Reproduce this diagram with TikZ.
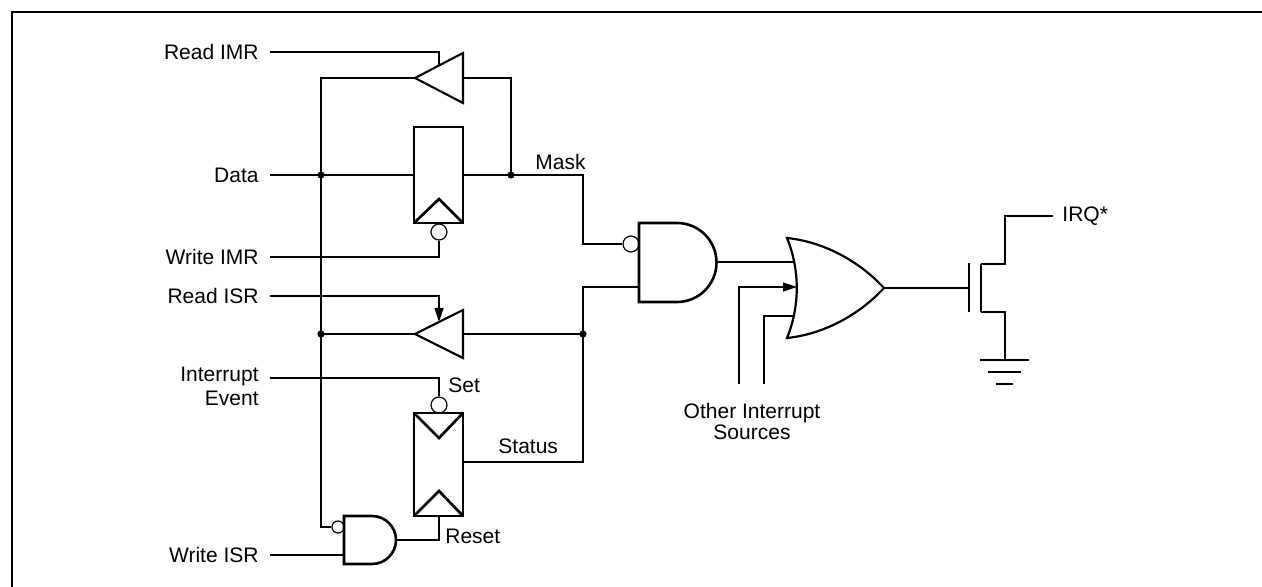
\documentclass[tikz,border=0pt]{standalone}
\usepackage{fontspec}
\setmainfont{Liberation Sans}
\usetikzlibrary{arrows.meta}
\begin{document}
\begin{tikzpicture}[x=0.5pt,y=-0.5pt,
  wire/.style={line width=0.75pt},
  ffbox/.style={line width=1.35pt, line join=miter},
  buf/.style={line width=1.05pt, line join=miter},
  andg/.style={line width=1.3pt},
  org/.style={line width=1.1pt},
  txt/.style={font=\fontsize{10.5pt}{12pt}\selectfont, inner sep=0pt},
  inlbl/.style={txt, anchor=east, inner xsep=5.5pt},
  jdot/.style={circle, fill, inner sep=0pt, minimum size=3.6pt},
  bub/.style={circle, draw, line width=0.6pt, inner sep=0pt, minimum size=8pt},
  sbub/.style={circle, draw, line width=0.6pt, inner sep=0pt, minimum size=6pt},
  arr/.style={-{Triangle[length=7pt,width=4.5pt]}},
]
\useasboundingbox (0,0) rectangle (1262,587);
% frame
\draw[line width=1pt] (12,588) -- (12,12) -- (1263,12);

% ---- input labels
\node[inlbl] (rimr) at (270,52) {Read IMR};
\node[inlbl] (data) at (270,175) {Data};
\node[inlbl] (wimr) at (270,257) {Write IMR};
\node[inlbl] (risr) at (270,296) {Read ISR};
\node[inlbl] (wisr) at (270,555) {Write ISR};
\node[txt, anchor=north east, align=right, inner xsep=5.5pt,
      font=\fontsize{10.5pt}{12pt}\selectfont] (iev) at (270,367) {Interrupt\\Event};
\coordinate (ievin) at (270,378);

% ---- key coordinates
\coordinate (bustop) at (321,78);
\coordinate (jd) at (321,175);
\coordinate (jb) at (321,334);
\coordinate (busbot) at (321,527);
\coordinate (jm) at (511,175);
\coordinate (js) at (583,334);
\coordinate (stin) at (583,287);

% ---- tri-state buffer 1 (IMR read)
\draw[buf] (463,53) -- (463,103) -- (415,78) -- cycle;
\coordinate (t1in) at (463,78);
\coordinate (t1out) at (415,78);
\coordinate (t1en) at (439,65.5);

% ---- flip-flop 1 (IMR)
\draw[ffbox] (414,127) rectangle (463,223);
\draw[ffbox] (414,223) -- (439,199) -- (463,223);
\coordinate (ff1d) at (414,175);
\coordinate (ff1q) at (463,175);
\node[bub] (b1) at (439,232) {};

% ---- tri-state buffer 2 (ISR read)
\draw[buf] (463,310) -- (463,358) -- (415,334) -- cycle;
\coordinate (t2in) at (463,334);
\coordinate (t2out) at (415,334);
\coordinate (t2en) at (439,322);

% ---- flip-flop 2 (ISR)
\draw[ffbox] (414,413) rectangle (463,516);
\draw[ffbox] (414,413) -- (439,438) -- (463,413);
\draw[ffbox] (414,516) -- (439,491) -- (463,516);
\node[bub] (b4) at (439,405) {};
\coordinate (ff2q) at (463,462);
\coordinate (ff2r) at (439,516);

% ---- bottom AND gate
\draw[andg] (344,516) -- (372,516) arc (-90:90:24) -- (344,564) -- cycle;
\node[sbub] (b3) at (338,527) {};
\coordinate (and2b) at (344,555);
\coordinate (and2o) at (396,540);

% ---- main AND gate
\draw[andg] (639,223) -- (677,223) arc (-90:90:39.5) -- (639,302) -- cycle;
\node[bub] (b2) at (631,244) {};
\coordinate (and1b) at (639,287);
\coordinate (and1o) at (716.5,262);

% ---- OR gate
\draw[org] (787,238) .. controls (800,270) and (800,306) .. (787,338)
  .. controls (825,334) and (860,314) .. (884,288)
  .. controls (860,262) and (825,242) .. (787,238) -- cycle;
\coordinate (or1) at (794,262);
\coordinate (or2) at (797,287);
\coordinate (or3) at (792.5,316);
\coordinate (oro) at (884,288);
\coordinate (oth1) at (739,384);
\coordinate (oth2) at (764,384);

% ---- MOSFET
\coordinate (mg) at (969,288);
\draw[line width=0.8pt] (969,263) -- (969,312);
\draw[line width=0.8pt] (981,264) -- (981,312);
\coordinate (md) at (981,264);
\coordinate (ms) at (981,312);
\coordinate (irq) at (1053,216);
\coordinate (gnd) at (1005,360);
\draw[wire] (980,360) -- (1029,360);
\draw[wire] (988,372) -- (1021,372);
\draw[wire] (996,384) -- (1013,384);

% ---- wires
\draw[wire] (rimr.east) -| (t1en);
\draw[wire] (t1out) -- (bustop) -- (busbot) -- (b3.west);
\draw[wire] (t1in) -| (jm);
\draw[wire] (data.east) -- (ff1d);
\draw[wire] (ff1q) -- (jm) -- (583,175) |- (b2.west);
\draw[wire] (wimr.east) -| (b1.south);
\draw[wire, arr] (risr.east) -| (t2en);
\draw[wire] (t2out) -- (jb);
\draw[wire] (t2in) -- (js);
\draw[wire] (ff2q) -| (stin) -- (and1b);
\draw[wire] (ievin) -| (b4.north);
\draw[wire] (wisr.east) -- (and2b);
\draw[wire] (and2o) -| (ff2r);
\draw[wire] (and1o) -- (or1);
\draw[wire, arr] (oth1) |- (or2);
\draw[wire] (oth2) |- (or3);
\draw[wire] (oro) -- (mg);
\draw[wire] (md) -- (1005,264) |- (irq);
\draw[wire] (ms) -- (1005,312) -- (gnd);

% ---- junction dots
\node[jdot] at (jd) {};
\node[jdot] at (jb) {};
\node[jdot] at (jm) {};
\node[jdot] at (js) {};

% ---- signal labels
\node[txt, anchor=base west] (lmask) at (535,170) {Mask};
\node[txt, anchor=base west] (lset) at (448,392) {Set};
\node[txt, anchor=base west] (lstat) at (498,453) {Status};
\node[txt, anchor=base west] (lres) at (445,543) {Reset};
\node[txt, anchor=west] (lirq) at (1062,216) {IRQ*};
\node[txt, anchor=north, align=center,
      font=\fontsize{10.5pt}{10.5pt}\selectfont] (loth) at (752,403) {Other Interrupt\\Sources};
\end{tikzpicture}
\end{document}
